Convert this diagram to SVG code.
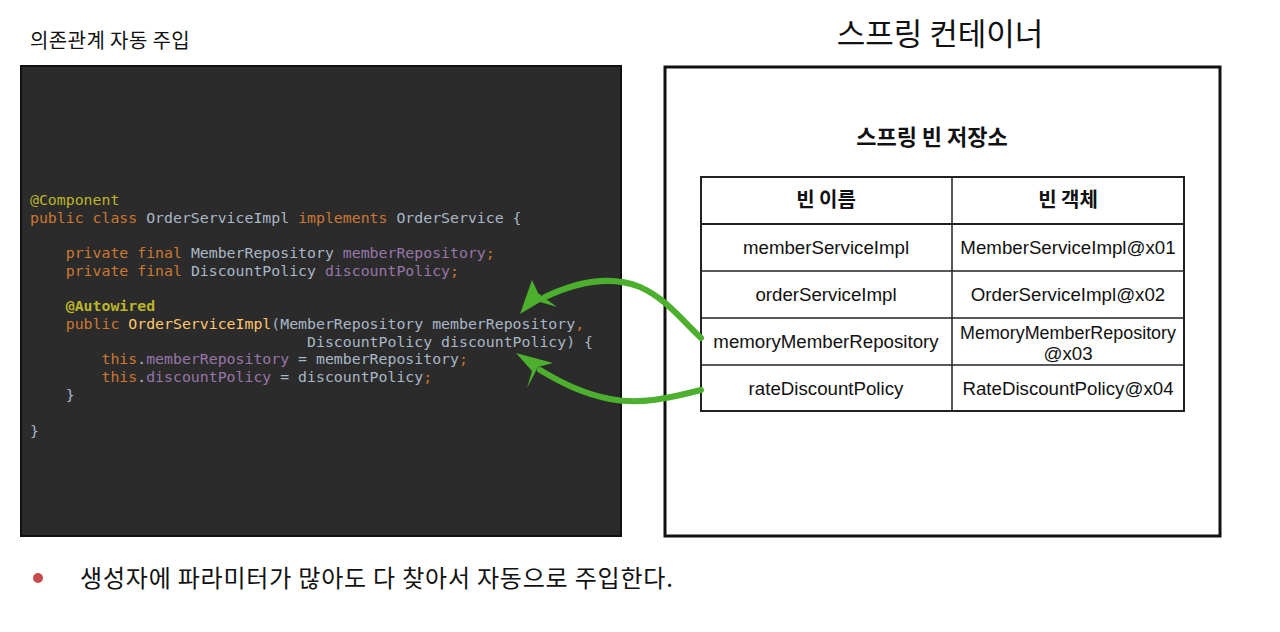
<svg xmlns="http://www.w3.org/2000/svg" width="1280" height="632" viewBox="0 0 1280 632">
<style>
.k{font-family:"Noto Sans CJK KR","Noto Sans",sans-serif;fill:#111}
.c{font-family:"DejaVu Sans Mono","Liberation Mono",monospace;font-size:14.85px;fill:#a9b7c6;white-space:pre}
.kw{fill:#cc7832}.an{fill:#bbb529}.fd{fill:#9876aa}.mt{fill:#ffc66d}
.cell{font-family:"Liberation Sans","Noto Sans",sans-serif;font-size:18.7px;fill:#111;text-anchor:middle}
.hd{font-family:"Noto Sans CJK KR",sans-serif;font-size:20px;font-weight:bold;fill:#111;text-anchor:middle}
.arr{fill:none;stroke:#4caf2e;stroke-width:6;stroke-linecap:round}
.head{fill:#4caf2e}
</style>
<rect width="1280" height="632" fill="#fff"/>
<g id="title-left"><text class="k" x="30" y="48" font-size="20" letter-spacing="0.4">의존관계 자동 주입</text></g>
<g id="code">
<rect x="21" y="66" width="600" height="470" fill="#2b2b2b" stroke="#111" stroke-width="2"/>
<text class="c" x="30" y="205"><tspan class="an">@Component</tspan></text>
<text class="c" x="30" y="223"><tspan class="kw">public class </tspan>OrderServiceImpl <tspan class="kw">implements </tspan>OrderService {</text>
<text class="c" x="30" y="258">    <tspan class="kw">private final </tspan>MemberRepository <tspan class="fd">memberRepository</tspan><tspan class="kw">;</tspan></text>
<text class="c" x="30" y="276">    <tspan class="kw">private final </tspan>DiscountPolicy <tspan class="fd">discountPolicy</tspan><tspan class="kw">;</tspan></text>
<text class="c" x="30" y="311">    <tspan class="an" font-weight="bold">@Autowired</tspan></text>
<text class="c" x="30" y="329">    <tspan class="kw">public </tspan><tspan class="mt">OrderServiceImpl</tspan>(MemberRepository memberRepository<tspan class="kw">,</tspan></text>
<text class="c" x="30" y="347">                               DiscountPolicy discountPolicy) {</text>
<text class="c" x="30" y="364">        <tspan class="kw">this</tspan>.<tspan class="fd">memberRepository</tspan> = memberRepository<tspan class="kw">;</tspan></text>
<text class="c" x="30" y="382">        <tspan class="kw">this</tspan>.<tspan class="fd">discountPolicy</tspan> = discountPolicy<tspan class="kw">;</tspan></text>
<text class="c" x="30" y="400">    }</text>
<text class="c" x="30" y="436">}</text>
</g>
<g id="container">
<text class="k" x="940" y="45" font-size="31" text-anchor="middle">스프링 컨테이너</text>
<rect x="665" y="67" width="555" height="469" fill="#fff" stroke="#111" stroke-width="3"/>
<text class="k" x="932" y="145" font-size="22" font-weight="bold" text-anchor="middle">스프링 빈 저장소</text>
</g>
<g id="bean-table" stroke="#222" stroke-width="1.5" fill="none">
<rect x="701" y="177" width="483" height="234" stroke-width="2"/>
<line x1="952" y1="177" x2="952" y2="411"/>
<line x1="701" y1="224" x2="1184" y2="224" stroke-width="2"/>
<line x1="701" y1="271" x2="1184" y2="271"/>
<line x1="701" y1="318" x2="1184" y2="318"/>
<line x1="701" y1="365" x2="1184" y2="365"/>
</g>
<g id="table-text">
<text class="hd" x="826" y="207">빈 이름</text>
<text class="hd" x="1068" y="207">빈 객체</text>
<text class="cell" x="826" y="254">memberServiceImpl</text>
<text class="cell" x="1068" y="254">MemberServiceImpl@x01</text>
<text class="cell" x="826" y="301">orderServiceImpl</text>
<text class="cell" x="1068" y="301">OrderServiceImpl@x02</text>
<text class="cell" x="826" y="348">memoryMemberRepository</text>
<text class="cell" x="1068" y="339" textLength="216" lengthAdjust="spacingAndGlyphs">MemoryMemberRepository</text>
<text class="cell" x="1068" y="360">@x03</text>
<text class="cell" x="826" y="395">rateDiscountPolicy</text>
<text class="cell" x="1068" y="395">RateDiscountPolicy@x04</text>
</g>
<g id="connectors">
<path class="arr" d="M701,338 C680,318 665,298 640,287 C615,277 585,278 545,297"/>
<polygon class="head" points="520,314 532,280 538,293 557,307 540,302"/>
<path class="arr" d="M701,390 C670,398 640,405 610,399 C585,394 565,385 540,370"/>
<polygon class="head" points="516,353 553,363 538,367 527,388 532,371"/>
</g>
<g id="note">
<circle cx="38" cy="578" r="5" fill="#c94a4a"/>
<text class="k" x="80" y="587" font-size="24" letter-spacing="0.8">생성자에 파라미터가 많아도 다 찾아서 자동으로 주입한다.</text>
</g>
</svg>
